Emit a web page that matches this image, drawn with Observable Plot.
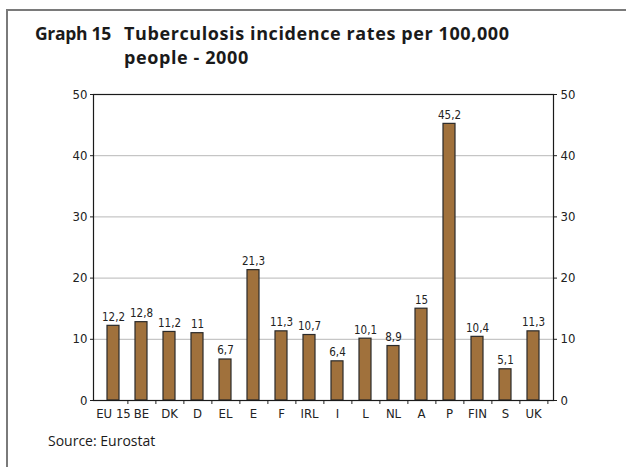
<!DOCTYPE html>
<html>
<head>
<meta charset="utf-8">
<script src="https://cdn.jsdelivr.net/npm/d3@7"></script>
<script src="https://cdn.jsdelivr.net/npm/@observablehq/plot@0.6"></script>
<style>
  html, body { margin: 0; padding: 0; background: #fff; }
  #page { position: relative; width: 626px; height: 467px; overflow: hidden; background: #fff; }
  .bline { position: absolute; background: #7a7a7a; }
  .title { position: absolute; font-family: "Open Sans", sans-serif; font-weight: 700; font-size: 18px; letter-spacing: 0.6px; color: #1a1a1a; white-space: nowrap; line-height: 1; }
  .source { position: absolute; font-family: "Open Sans", sans-serif; font-size: 14px; color: #1a1a1a; white-space: nowrap; line-height: 1; }
  #chart { position: absolute; left: 0; top: 80px; }
</style>
</head>
<body>
<div id="page">
  <div class="bline" style="left:6px; top:9px; width:620px; height:1.5px;"></div>
  <div class="bline" style="left:6px; top:9px; width:1.5px; height:458px;"></div>
  <div class="title" style="left:35px; top:24.5px; font-size:17.5px; letter-spacing:-0.3px;">Graph 15</div>
  <div class="title" style="left:124px; top:24px;">Tuberculosis incidence rates per 100,000</div>
  <div class="title" style="left:124px; top:48px;">people - 2000</div>
  <div class="source" style="left:48px; top:434px;">Source: Eurostat</div>
  <div id="chart"></div>
</div>
<script>
const countries = ["EU 15", "BE", "DK", "D", "EL", "E", "F", "IRL", "I", "L", "NL", "A", "P", "FIN", "S", "UK"];
const rates = [12.2, 12.8, 11.2, 11, 6.7, 21.3, 11.3, 10.7, 6.4, 10.1, 8.9, 15, 45.2, 10.4, 5.1, 11.3];
const yTicks = [0, 10, 20, 30, 40, 50];
const gridValues = [10, 20, 30, 40];

const data = countries.map((c, i) => ({country: c, rate: rates[i]}));
const fmt = v => String(v).replace(".", ",");

const W = 626, H = 350;
const mL = 93, mR = 73, mT = 14, mB = 30;
const step = (W - mL - mR) / countries.length;
const font = "'Liberation Sans Narrow', 'DejaVu Sans Condensed', 'Arial Narrow', sans-serif";

const plot = Plot.plot({
  width: W,
  height: H,
  marginLeft: mL,
  marginRight: mR,
  marginTop: mT,
  marginBottom: mB,
  style: {fontFamily: font, fontSize: "13px", color: "#222", background: "transparent"},
  x: {domain: countries, paddingInner: 0.58, paddingOuter: 0.29, label: null},
  y: {domain: [0, 50], label: null},
  marks: [
    Plot.ruleY(gridValues, {stroke: "#b8b8b8", strokeWidth: 1}),
    Plot.barY(data, {x: "country", y: "rate", fill: "#a0713c", stroke: "#2a2a2a", strokeWidth: 1.2}),
    Plot.text(data, {x: "country", y: "rate", text: d => fmt(d.rate), dy: -5, lineAnchor: "bottom", fontSize: 11.5, fill: "#222"}),
    Plot.axisY({anchor: "left", ticks: yTicks, tickSize: 3, tickPadding: 3, fontSize: 13, label: null}),
    Plot.axisY({anchor: "right", ticks: yTicks, tickSize: 3, tickPadding: 4, fontSize: 13, label: null}),
    Plot.axisX({tickSize: 0, tickPadding: 8, fontSize: 13, label: null}),
    Plot.axisX({tickSize: 4, tickFormat: () => "", dx: step / 2, label: null}),
    Plot.frame({stroke: "#1a1a1a", strokeWidth: 1.2})
  ]
});
document.getElementById("chart").appendChild(plot);
</script>
</body>
</html>
